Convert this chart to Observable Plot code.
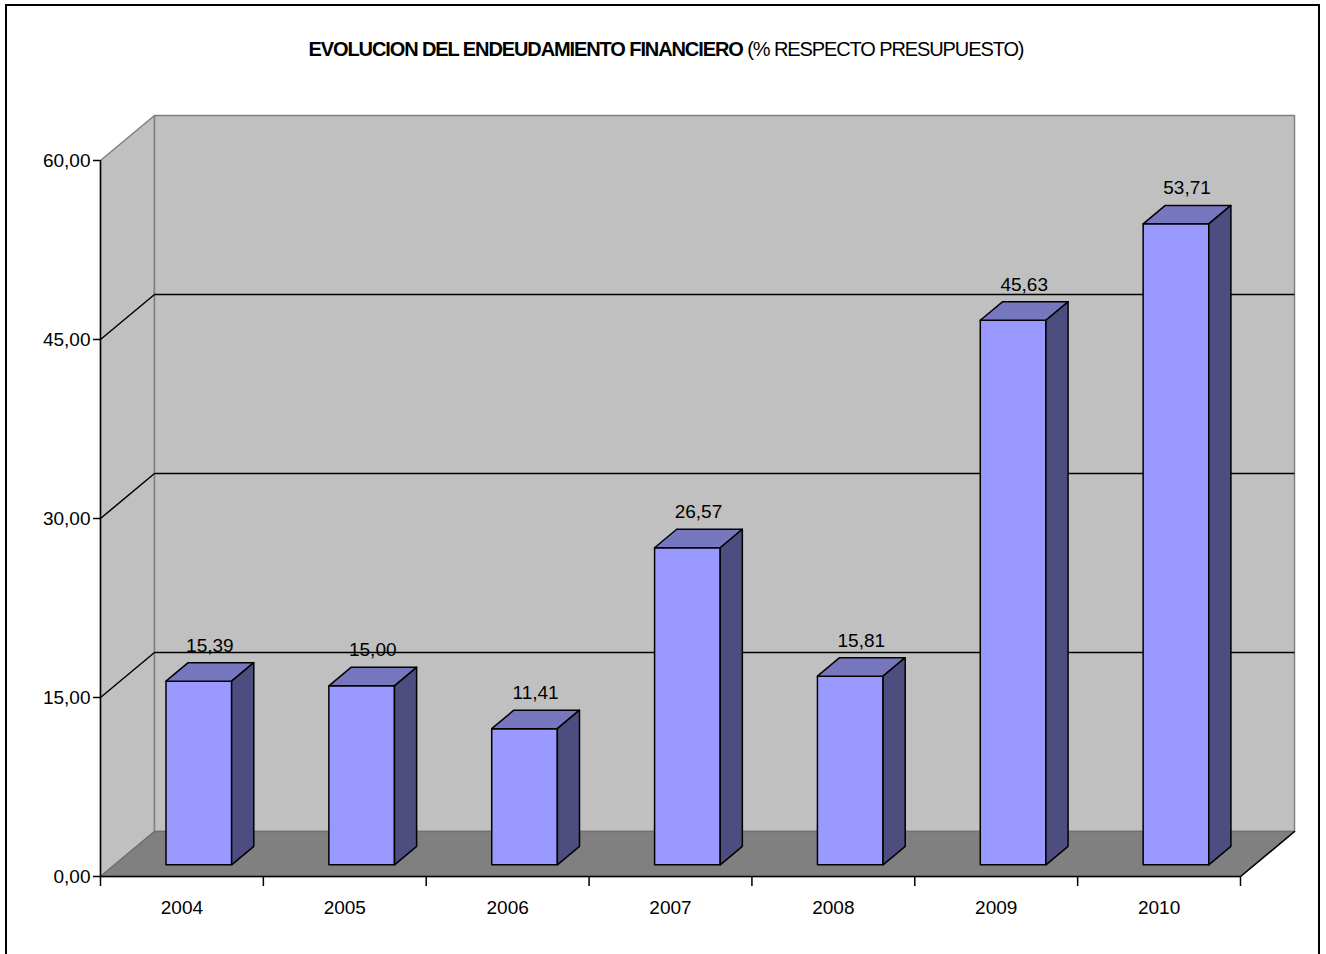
<!DOCTYPE html>
<html>
<head>
<meta charset="utf-8">
<script src="https://cdn.jsdelivr.net/npm/d3@7"></script>
<script src="https://cdn.jsdelivr.net/npm/@observablehq/plot@0.6"></script>
<style>
  html, body { margin: 0; padding: 0; background: #fff; }
  #wrap { position: relative; width: 1326px; height: 954px; overflow: hidden; }
  #border { position: absolute; left: 5px; top: 4px; width: 1315px; height: 1000px; border: 2px solid #000; box-sizing: border-box; }
  #title { position: absolute; left: 0; top: 39px; width: 1332px; text-align: center; font-family: Arial, "Liberation Sans", sans-serif; font-size: 20px; line-height: 20px; color: #000; letter-spacing: -1.1px; white-space: nowrap; }
  #title b { font-weight: bold; }
  #chart { position: absolute; left: 0; top: 0; }
</style>
</head>
<body>
<div id="wrap">
  <div id="chart"></div>
  <div id="border"></div>
  <div id="title"><b>EVOLUCION DEL ENDEUDAMIENTO FINANCIERO</b> (% RESPECTO PRESUPUESTO)</div>
</div>
<script>
// ---- data ----
const years = ["2004", "2005", "2006", "2007", "2008", "2009", "2010"];
const values = [15.39, 15.00, 11.41, 26.57, 15.81, 45.63, 53.71];
const yTicks = [0, 15, 30, 45, 60];
const gridTicks = [15, 30, 45];

// ---- 3D projection helpers (in data units) ----
const W = 1326, H = 954;
const mL = 100, mR = 86, mT = 160, mB = 78;
const n = years.length;
const yMax = 60;
const pxPerX = (W - mL - mR) / n;
const pxPerY = (H - mT - mB) / yMax;
const DXu = 54 / pxPerX;   // depth offset in x units
const DYu = 45 / pxPerY;   // depth offset in y units
const proj = (x, y, f) => ({x: x + f * DXu, y: y + f * DYu});

const barOff = 0.316, barW = 0.403, f1 = 0.26, f2 = 0.67;
const fmt = d => d.toFixed(2).replace(".", ",");

// walls
const poly = (id, pts) => pts.map(p => ({id, ...p}));
const sideWall = poly("side", [proj(0,0,0), proj(0,0,1), proj(0,yMax,1), proj(0,yMax,0)]);
const backWall = poly("back", [proj(0,0,1), proj(n,0,1), proj(n,yMax,1), proj(0,yMax,1)]);
const floor = poly("floor", [proj(0,0,0), proj(n,0,0), proj(n,0,1), proj(0,0,1)]);
const grid = gridTicks.flatMap(t => poly("g" + t, [proj(0,t,0), proj(0,t,1), proj(n,t,1)]));

// bars
const fronts = [], tops = [], sides = [];
values.forEach((v, i) => {
  const x0 = i + barOff, x1 = x0 + barW;
  fronts.push(...poly("f" + i, [proj(x0,0,f1), proj(x1,0,f1), proj(x1,v,f1), proj(x0,v,f1)]));
  tops.push(...poly("t" + i, [proj(x0,v,f1), proj(x1,v,f1), proj(x1,v,f2), proj(x0,v,f2)]));
  sides.push(...poly("s" + i, [proj(x1,0,f1), proj(x1,0,f2), proj(x1,v,f2), proj(x1,v,f1)]));
});
const fm = (f1 + f2) / 2;

const plot = Plot.plot({
  width: W, height: H,
  marginLeft: mL, marginRight: mR, marginTop: mT, marginBottom: mB,
  x: {type: "linear", domain: [0, n], axis: null},
  y: {type: "linear", domain: [0, yMax], axis: null},
  style: {fontFamily: "Arial, 'Liberation Sans', sans-serif", fontSize: "19px", color: "#000", background: "transparent", overflow: "visible"},
  marks: [
    Plot.line(sideWall, {x: "x", y: "y", z: "id", curve: "linear-closed", fill: "#C0C0C0", stroke: "#808080", strokeWidth: 1.5}),
    Plot.line(backWall, {x: "x", y: "y", z: "id", curve: "linear-closed", fill: "#C0C0C0", stroke: "#808080", strokeWidth: 1.5}),
    Plot.line(floor, {x: "x", y: "y", z: "id", curve: "linear-closed", fill: "#808080", stroke: "#707070", strokeWidth: 1.5}),
    Plot.line(grid, {x: "x", y: "y", z: "id", stroke: "#000", strokeWidth: 1.5, strokeLinecap: "butt"}),
    // floor front-right edge
    Plot.line([proj(n,0,0), proj(n,0,1)], {x: "x", y: "y", stroke: "#000", strokeWidth: 1.5}),
    // bars
    Plot.line(fronts, {x: "x", y: "y", z: "id", curve: "linear-closed", fill: "#9999FF", stroke: "#000", strokeWidth: 1.5}),
    Plot.line(tops, {x: "x", y: "y", z: "id", curve: "linear-closed", fill: "#7777C0", stroke: "#000", strokeWidth: 1.5}),
    Plot.line(sides, {x: "x", y: "y", z: "id", curve: "linear-closed", fill: "#4D4D80", stroke: "#000", strokeWidth: 1.5}),
    // value labels
    Plot.text(values, {x: (d, i) => i + barOff + barW / 2 + fm * DXu, y: d => d + fm * DYu, dy: -26.5, text: fmt, fontSize: 19, fill: "#000"}),
    // axes
    Plot.ruleX([0], {y1: 0, y2: yMax, stroke: "#000", strokeWidth: 1.5}),
    Plot.ruleY([0], {x1: 0, x2: n, stroke: "#000", strokeWidth: 1.5}),
    Plot.axisY({ticks: yTicks, tickFormat: fmt, tickSize: 7, tickPadding: 3, fontSize: 19, label: null, stroke: "#000", strokeWidth: 1.5, strokeOpacity: 1}),
    Plot.axisX({ticks: d3.range(n + 1), tickFormat: () => "", tickSize: 10, label: null, stroke: "#000", strokeWidth: 1.5, strokeOpacity: 1}),
    Plot.text(years, {x: (d, i) => i + 0.5, y: 0, dy: 31, text: d => d, fontSize: 19, fill: "#000"})
  ]
});
document.getElementById("chart").appendChild(plot);
</script>
</body>
</html>
